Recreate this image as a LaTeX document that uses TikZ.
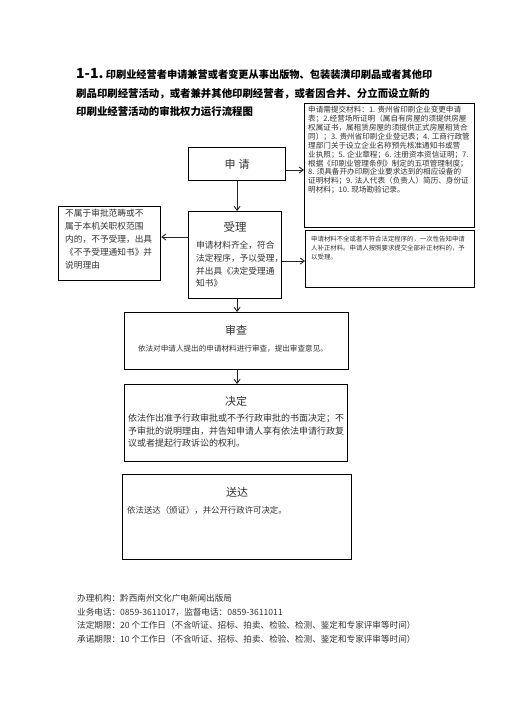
\documentclass[tikz,border=0pt]{standalone}
\usepackage{fontspec}
\setmainfont{Noto Sans CJK SC}
\usetikzlibrary{arrows.meta,calc}
\tikzset{
  box/.style={draw=black, line width=1.2pt, rectangle, inner sep=0pt, anchor=north west},
  arr/.style={draw=black!85, line width=0.9pt, -{Straight Barb[length=4pt,width=6pt]}},
  txt/.style={inner sep=0pt, align=left, anchor=north west, text=black!80},
  ttl/.style={inner sep=0pt, text=black!80},
}
\newcommand{\fs}[2]{\fontsize{#1pt}{#2pt}\selectfont}
\begin{document}
\begin{tikzpicture}[x=1pt,y=-1pt]
\useasboundingbox[fill=white] (0,0) rectangle (504,713);

% title
\node[inner sep=0pt, anchor=west] (t1) at (76,74) {\fs{14}{16}\textbf{1-1.}\,\fs{10.2}{12}\bfseries 印刷业经营者申请兼营或者变更从事出版物、包装装潢印刷品或者其他印};
\node[inner sep=0pt, anchor=west] (t2) at (76,94) {\fs{10.4}{12}\bfseries 刷品印刷经营活动，或者兼并其他印刷经营者，或者因合并、分立而设立新的};
\node[inner sep=0pt, anchor=west] (t3) at (76,112) {\fs{10.4}{12}\bfseries 印刷业经营活动的审批权力运行流程图};

% boxes
\node[box, minimum width=170pt, minimum height=124pt] (mat) at (304,103) {};
\node[box, minimum width=169pt, minimum height=57pt] (bz) at (305,230) {};
\node[box, minimum width=97pt, minimum height=33pt] (sq) at (188,147) {};
\node[box, minimum width=93pt, minimum height=87pt] (sl) at (188,211) {};
\node[box, minimum width=102pt, minimum height=74pt] (nb) at (58,206) {};
\node[box, minimum width=224pt, minimum height=57pt] (sc) at (124,312) {};
\node[box, minimum width=223pt, minimum height=77pt] (jd) at (124,384) {};
\node[box, minimum width=229pt, minimum height=85pt] (sd) at (122,474) {};

% texts
\node[txt, font=\fs{7.6}{8.9}] (matt) at (308,106) {申请需提交材料：1. 贵州省印刷企业变更申请\\表；2.经营场所证明（属自有房屋的须提供房屋\\权属证书，属租赁房屋的须提供正式房屋租赁合\\同）；3. 贵州省印刷企业登记表；4. 工商行政管\\理部门关于设立企业名称预先核准通知书或营\\业执照；5. 企业章程；6. 注册资本资信证明；7.\\根据《印刷业管理条例》制定的五项管理制度；\\8. 须具备开办印刷企业要求达到的相应设备的\\证明材料；9. 法人代表（负责人）简历、身份证\\明材料；10. 现场勘验记录。};
\node[txt, font=\fs{6.4}{9}] (bzt) at (311,236) {申请材料不全或者不符合法定程序的，一次性告知申请\\人补正材料。申请人按照要求提交全部补正材料的，予\\以受理。};
\node[ttl, font=\fs{11}{13}] (sqt) at (sq.center) {申\hspace{3pt}请};
\node[ttl, font=\fs{11.5}{13}] (slt) at (235,227) {受理};
\node[txt, font=\fs{8.7}{12.7}] (slb) at (196,241) {申请材料齐全，符合\\法定程序，予以受理，\\并出具《决定受理通\\知书》};
\node[txt, font=\fs{8.7}{13}] (nbt) at (65,209) {不属于审批范畴或不\\属于本机关职权范围\\内的，不予受理，出具\\《不予受理通知书》并\\说明理由};
\node[ttl, font=\fs{11}{13}] (sct) at (236,330) {审查};
\node[ttl, font=\fs{7.6}{9}] (scb) at (233,349) {依法对申请人提出的申请材料进行审查，提出审查意见。};
\node[ttl, font=\fs{11}{13}] (jdt) at (236,401) {决定};
\node[txt, font=\fs{9}{12.5}] (jdb) at (128,414) {依法作出准予行政审批或不予行政审批的书面决定；不\\予审批的说明理由，并告知申请人享有依法申请行政复\\议或者提起行政诉讼的权利。};
\node[ttl, font=\fs{11}{13}] (sdt) at (237,492) {送达};
\node[ttl, anchor=west, font=\fs{8.4}{10}] (sdb) at (127,510) {依法送达（颁证），并公开行政许可决定。};

% footer
\node[txt, font=\fs{8.6}{13.7}] (f1) at (77,594) {办理机构：黔西南州文化广电新闻出版局\\业务电话：0859-3611017，监督电话：0859-3611011\\法定期限：20 个工作日（不含听证、招标、拍卖、检验、检测、鉴定和专家评审等时间）\\承诺期限：10 个工作日（不含听证、招标、拍卖、检验、检测、鉴定和专家评审等时间）};

% connectors
\coordinate (y1) at (0,170);
\coordinate (y2) at (0,237);
\coordinate (y3) at (0,261);
\draw[arr] (sq.east |- y1) -- (mat.west |- y1);
\draw[arr] (sq.south) -- (sl.north -| sq.south);
\draw[arr] (sl.west |- y2) -- (nb.east |- y2);
\draw[arr] (sl.east |- y3) -- (bz.west |- y3);
\draw[arr] (sl.south -| sq.south) -- (sc.north -| sq.south);
\draw[arr] (sc.south -| sq.south) -- (jd.north -| sq.south);
\end{tikzpicture}
\end{document}
